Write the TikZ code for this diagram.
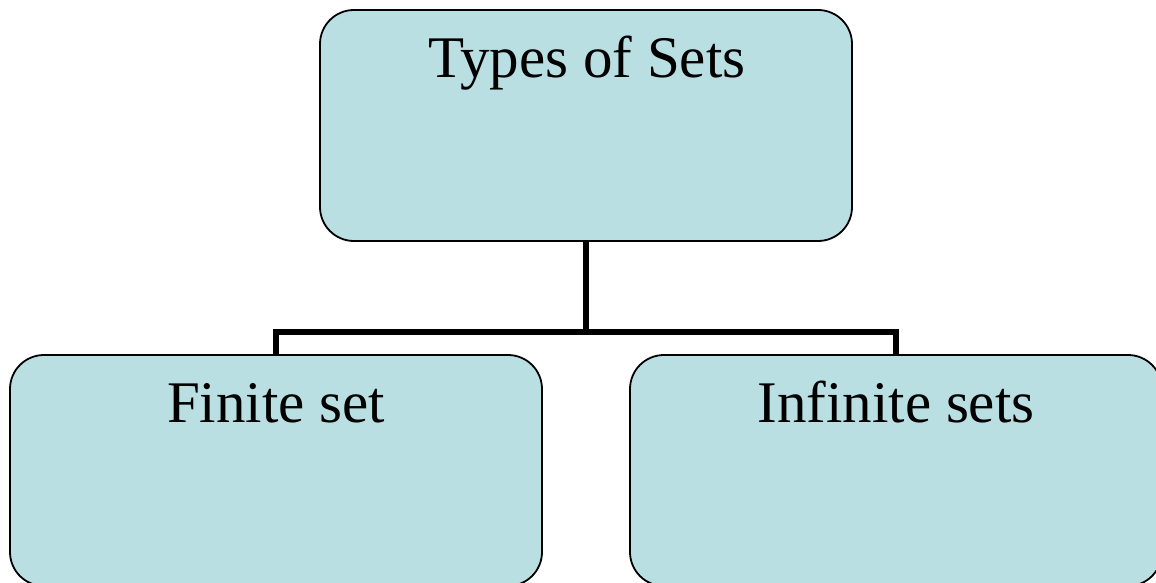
\documentclass[tikz,border=0pt]{standalone}
\usepackage{fontspec}
\setmainfont{Liberation Serif}
\usetikzlibrary{calc}
\definecolor{boxfill}{RGB}{186,223,227}
\begin{document}
\begin{tikzpicture}[x=1pt,y=-1pt,
  setbox/.style={draw=black, line width=1.8pt, fill=boxfill, rounded corners=34pt,
    minimum width=532pt, minimum height=231pt, inner sep=0pt, outer sep=0pt, anchor=north},
  settext/.style={anchor=base, font=\fontsize{59}{69}\selectfont, inner sep=0pt},
  conn/.style={draw=black, line width=6pt, line join=miter}]
  \useasboundingbox (0,0) rectangle (1156,583);

  % connectors (drawn first so the boxes sit on top)
  \coordinate (topS) at (586,241);
  \coordinate (j) at (586,332);
  \coordinate (leftN) at (276,355);
  \coordinate (rightN) at (896,355);
  \draw[conn] (topS) -- (j);
  \draw[conn] (leftN) |- (j) -| (rightN);

  % boxes
  \node[setbox] (top) at (586,10) {};
  \node[setbox] (left) at (276,355) {};
  \node[setbox] (right) at (896,355) {};

  % titles
  \node[settext] (topT) at ($(top.north)+(1,67.5)$) {Types of Sets};
  \node[settext] (leftT) at ($(left.north)+(0,67.5)$) {Finite set};
  \node[settext] (rightT) at ($(right.north)+(0,67.5)$) {Infinite sets};
\end{tikzpicture}
\end{document}
